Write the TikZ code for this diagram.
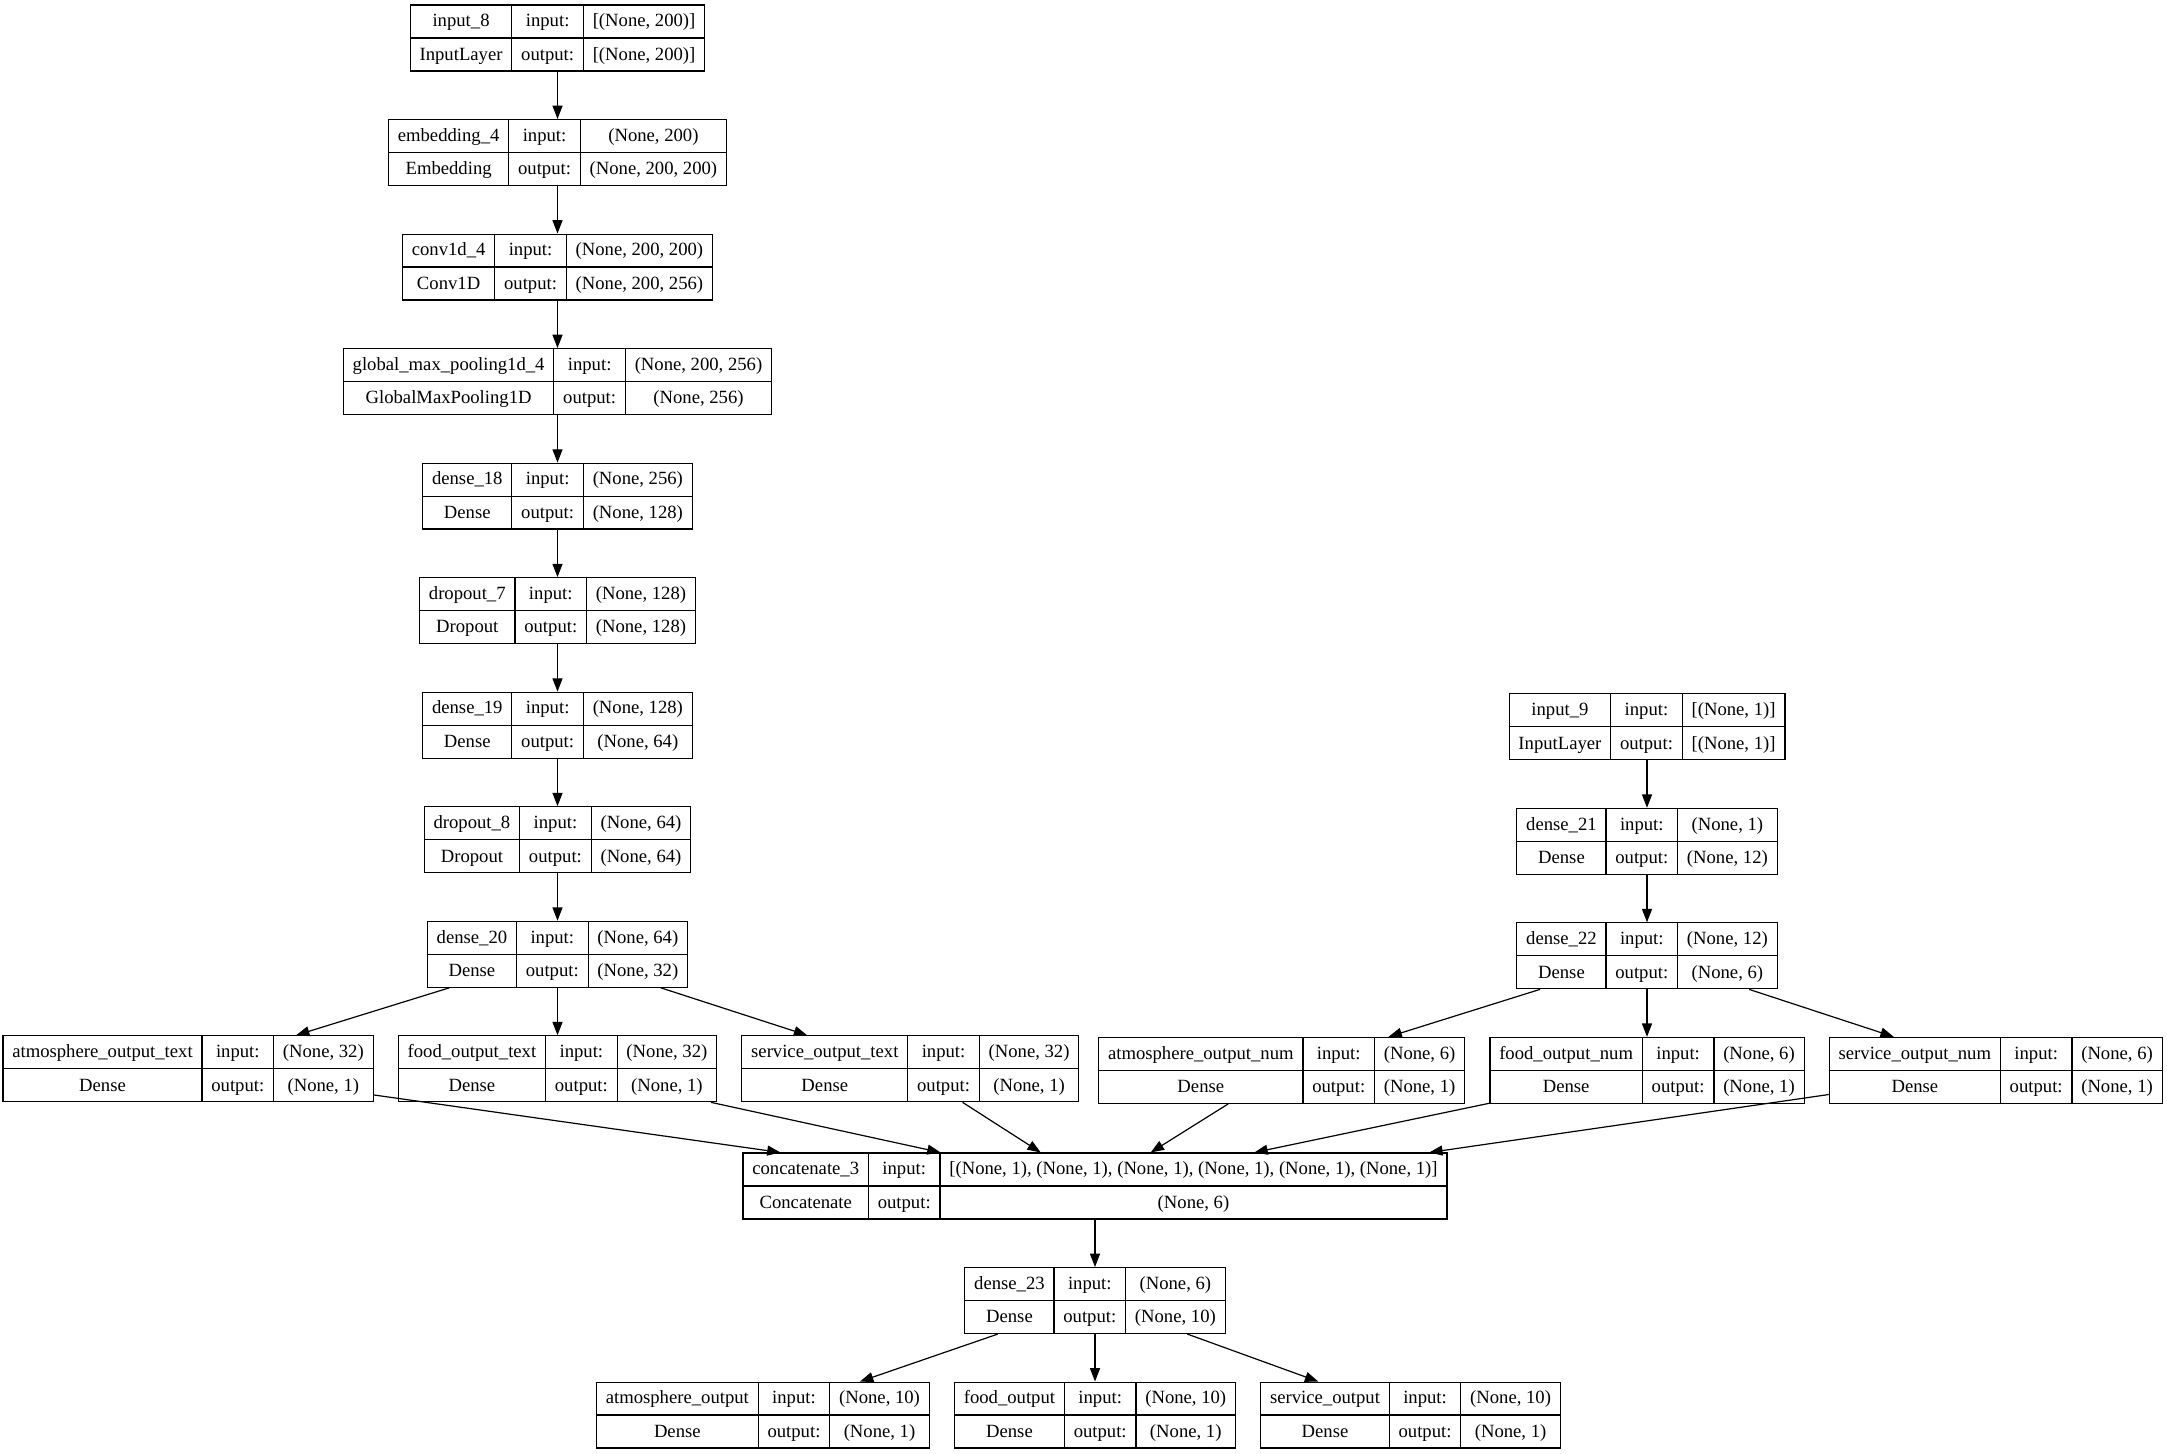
\documentclass[tikz,border=0pt]{standalone}
\usepackage{fontspec}
\setmainfont{Liberation Serif}
\usetikzlibrary{arrows.meta,positioning,calc}
\setlength{\arrayrulewidth}{0.9pt}
\setlength{\tabcolsep}{7pt}
\newcommand{\layerbox}[4]{%
  \begin{tabular}{c|c|c}
    \rule[-8pt]{0pt}{24.25pt}#1 & input: & #3\\ \hline
    \rule[-8pt]{0pt}{24.25pt}#2 & output: & #4
  \end{tabular}}

\begin{document}
\begin{tikzpicture}[
  x=0.75pt, y=-0.75pt,
  node distance=35.6pt and 18pt,
  layer/.style={draw,line width=0.9pt,inner sep=0pt,font=\fontsize{14}{16}\selectfont},
  arr/.style={-{Triangle[length=10pt,width=7.5pt]},line width=0.9pt},
]
  \useasboundingbox (0,0) rectangle (2167,1453);

  % text branch
  \node[layer] (inp8) at (557.5,38) {\layerbox{input\_8}{InputLayer}{[(None, 200)]}{[(None, 200)]}};
  \node[layer,below=of inp8] (emb) {\layerbox{embedding\_4}{Embedding}{(None, 200)}{(None, 200, 200)}};
  \node[layer,below=of emb] (conv) {\layerbox{conv1d\_4}{Conv1D}{(None, 200, 200)}{(None, 200, 256)}};
  \node[layer,below=of conv] (gmp) {\layerbox{global\_max\_pooling1d\_4}{GlobalMaxPooling1D}{(None, 200, 256)}{(None, 256)}};
  \node[layer,below=of gmp] (d18) {\layerbox{dense\_18}{Dense}{(None, 256)}{(None, 128)}};
  \node[layer,below=of d18] (do7) {\layerbox{dropout\_7}{Dropout}{(None, 128)}{(None, 128)}};
  \node[layer,below=of do7] (d19) {\layerbox{dense\_19}{Dense}{(None, 128)}{(None, 64)}};
  \node[layer,below=of d19] (do8) {\layerbox{dropout\_8}{Dropout}{(None, 64)}{(None, 64)}};
  \node[layer,below=of do8] (d20) {\layerbox{dense\_20}{Dense}{(None, 64)}{(None, 32)}};

  \node[layer,below=of d20] (fot) {\layerbox{food\_output\_text}{Dense}{(None, 32)}{(None, 1)}};
  \node[layer,left=of fot] (aot) {\layerbox{atmosphere\_output\_text}{Dense}{(None, 32)}{(None, 1)}};
  \node[layer,right=of fot] (sot) {\layerbox{service\_output\_text}{Dense}{(None, 32)}{(None, 1)}};

  % numeric branch
  \node[layer] (inp9) at (1647,726.75) {\layerbox{input\_9}{InputLayer}{[(None, 1)]}{[(None, 1)]}};
  \node[layer,below=of inp9] (d21) {\layerbox{dense\_21}{Dense}{(None, 1)}{(None, 12)}};
  \node[layer,below=of d21] (d22) {\layerbox{dense\_22}{Dense}{(None, 12)}{(None, 6)}};

  \node[layer,below=of d22] (fon) {\layerbox{food\_output\_num}{Dense}{(None, 6)}{(None, 1)}};
  \node[layer,left=of fon] (aon) {\layerbox{atmosphere\_output\_num}{Dense}{(None, 6)}{(None, 1)}};
  \node[layer,right=of fon] (son) {\layerbox{service\_output\_num}{Dense}{(None, 6)}{(None, 1)}};

  % merge and heads
  \node[layer] (cat) at (1095,1186) {\layerbox{concatenate\_3}{Concatenate}{[(None, 1), (None, 1), (None, 1), (None, 1), (None, 1), (None, 1)]}{(None, 6)}};
  \node[layer,below=of cat] (d23) {\layerbox{dense\_23}{Dense}{(None, 6)}{(None, 10)}};
  \node[layer,below=of d23] (fo) {\layerbox{food\_output}{Dense}{(None, 10)}{(None, 1)}};
  \node[layer,left=of fo] (ao) {\layerbox{atmosphere\_output}{Dense}{(None, 10)}{(None, 1)}};
  \node[layer,right=of fo] (so) {\layerbox{service\_output}{Dense}{(None, 10)}{(None, 1)}};

  \draw[arr] (inp8) -- (emb);
  \draw[arr] (emb) -- (conv);
  \draw[arr] (conv) -- (gmp);
  \draw[arr] (gmp) -- (d18);
  \draw[arr] (d18) -- (do7);
  \draw[arr] (do7) -- (d19);
  \draw[arr] (d19) -- (do8);
  \draw[arr] (do8) -- (d20);
  \draw[arr] (d20) -- (aot);
  \draw[arr] (d20) -- (fot);
  \draw[arr] (d20) -- (sot);

  \draw[arr] (inp9) -- (d21);
  \draw[arr] (d21) -- (d22);
  \draw[arr] (d22) -- (aon);
  \draw[arr] (d22) -- (fon);
  \draw[arr] (d22) -- (son);

  \draw[arr] (aot) -- ($(cat.north west)!0.054!(cat.north east)$);
  \draw[arr] (fot) -- ($(cat.north west)!0.281!(cat.north east)$);
  \draw[arr] (sot) -- ($(cat.north west)!0.423!(cat.north east)$);
  \draw[arr] (aon) -- ($(cat.north west)!0.579!(cat.north east)$);
  \draw[arr] (fon) -- ($(cat.north west)!0.726!(cat.north east)$);
  \draw[arr] (son) -- ($(cat.north west)!0.974!(cat.north east)$);

  \draw[arr] (cat) -- (d23);
  \draw[arr] (d23) -- (ao);
  \draw[arr] (d23) -- (fo);
  \draw[arr] (d23) -- (so);
\end{tikzpicture}
\end{document}
